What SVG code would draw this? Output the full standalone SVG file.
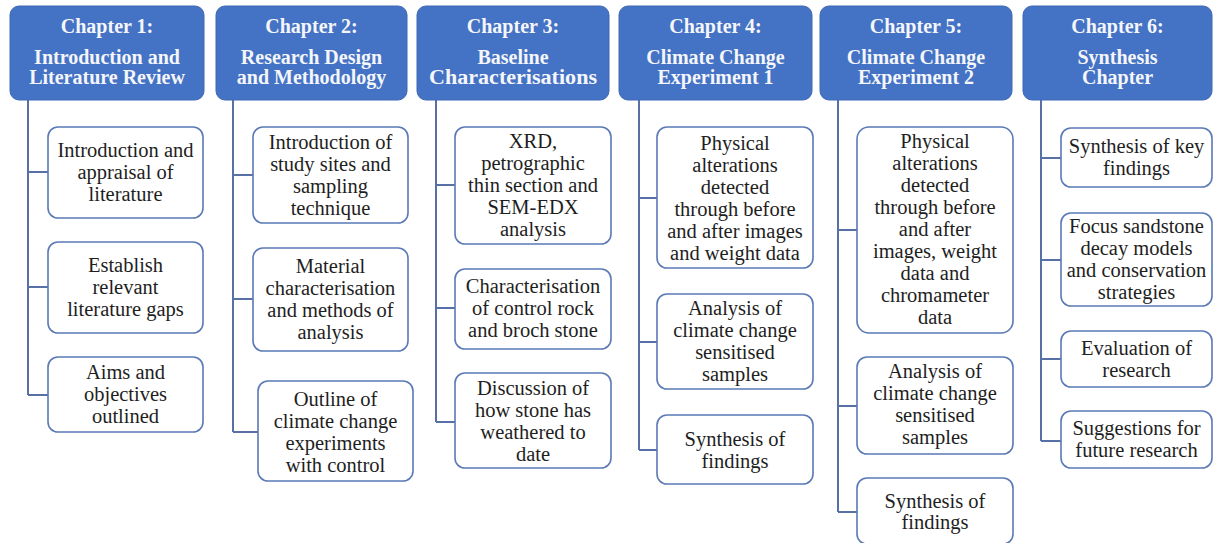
<svg xmlns="http://www.w3.org/2000/svg" width="1213" height="543" viewBox="0 0 1213 543">
<style>
.hd rect{fill:#4472C4;stroke:#3F69B5;stroke-width:1}
.hd text{font-family:"Liberation Serif","Times New Roman",serif;font-weight:bold;font-size:20px;fill:#F4F6FA;text-anchor:middle}
.ch rect{fill:#FFFFFF;stroke:#5A79B6;stroke-width:1.6}
.ch text{font-family:"Liberation Serif","Times New Roman",serif;font-size:20.5px;fill:#1E1E1E;text-anchor:middle}
#connectors path{fill:none;stroke:#5771A6;stroke-width:2}
</style>
<rect width="1213" height="543" fill="#FFFFFF"/>
<g id="connectors">
<path d="M28 100 V395 M28 172 H48 M28 287 H48 M28 395 H48"/>
<path d="M233 100 V432 M233 175 H253 M233 299 H253 M233 432 H258"/>
<path d="M436 100 V422 M436 185 H455 M436 308 H455 M436 422 H455"/>
<path d="M639 100 V450 M639 198 H657 M639 342 H657 M639 450 H657"/>
<path d="M838 100 V512 M838 230 H857 M838 406 H857 M838 512 H857"/>
<path d="M1041 100 V441 M1041 158 H1061 M1041 260 H1061 M1041 359 H1061 M1041 441 H1061"/>
</g>
<g id="ch1" class="hd"><rect x="10" y="6" width="194" height="94" rx="9"/><text x="107" y="33">Chapter 1:</text><text x="107" y="63.5">Introduction and</text><text x="107" y="84">Literature Review</text></g>
<g id="ch2" class="hd"><rect x="216" y="6" width="191" height="94" rx="9"/><text x="311.5" y="33">Chapter 2:</text><text x="311.5" y="63.5">Research Design</text><text x="311.5" y="84">and Methodology</text></g>
<g id="ch3" class="hd"><rect x="417" y="6" width="192" height="94" rx="9"/><text x="513" y="33">Chapter 3:</text><text x="513" y="63.5">Baseline</text><text x="513" y="84" textLength="168" lengthAdjust="spacingAndGlyphs">Characterisations</text></g>
<g id="ch4" class="hd"><rect x="619" y="6" width="193" height="94" rx="9"/><text x="715.5" y="33">Chapter 4:</text><text x="715.5" y="63.5">Climate Change</text><text x="715.5" y="84">Experiment 1</text></g>
<g id="ch5" class="hd"><rect x="820" y="6" width="192" height="94" rx="9"/><text x="916" y="33">Chapter 5:</text><text x="916" y="63.5">Climate Change</text><text x="916" y="84">Experiment 2</text></g>
<g id="ch6" class="hd"><rect x="1023" y="6" width="189" height="94" rx="9"/><text x="1117.5" y="33">Chapter 6:</text><text x="1117.5" y="63.5">Synthesis</text><text x="1117.5" y="84">Chapter</text></g>

<g id="c1a" class="ch"><rect x="48" y="127" width="155" height="91" rx="10"/><text x="125.5" y="157">Introduction and</text><text x="125.5" y="179">appraisal of</text><text x="125.5" y="201">literature</text></g>
<g id="c1b" class="ch"><rect x="48" y="242" width="155" height="91" rx="10"/><text x="125.5" y="272">Establish</text><text x="125.5" y="294">relevant</text><text x="125.5" y="316">literature gaps</text></g>
<g id="c1c" class="ch"><rect x="48" y="357" width="155" height="75" rx="10"/><text x="125.5" y="379">Aims and</text><text x="125.5" y="401">objectives</text><text x="125.5" y="423">outlined</text></g>

<g id="c2a" class="ch"><rect x="253" y="127" width="155" height="96" rx="10"/><text x="330.5" y="149">Introduction of</text><text x="330.5" y="171">study sites and</text><text x="330.5" y="193">sampling</text><text x="330.5" y="215">technique</text></g>
<g id="c2b" class="ch"><rect x="253" y="248" width="155" height="103" rx="10"/><text x="330.5" y="273">Material</text><text x="330.5" y="295">characterisation</text><text x="330.5" y="317">and methods of</text><text x="330.5" y="339">analysis</text></g>
<g id="c2c" class="ch"><rect x="258" y="381" width="155" height="100" rx="10"/><text x="335.5" y="406">Outline of</text><text x="335.5" y="428">climate change</text><text x="335.5" y="450">experiments</text><text x="335.5" y="472">with control</text></g>

<g id="c3a" class="ch"><rect x="455" y="127" width="156" height="117" rx="10"/><text x="533" y="148">XRD,</text><text x="533" y="170">petrographic</text><text x="533" y="192">thin section and</text><text x="533" y="214">SEM-EDX</text><text x="533" y="236">analysis</text></g>
<g id="c3b" class="ch"><rect x="455" y="269" width="156" height="80" rx="10"/><text x="533" y="293">Characterisation</text><text x="533" y="315">of control rock</text><text x="533" y="337">and broch stone</text></g>
<g id="c3c" class="ch"><rect x="455" y="373" width="156" height="95" rx="10"/><text x="533" y="395">Discussion of</text><text x="533" y="417">how stone has</text><text x="533" y="439">weathered to</text><text x="533" y="461">date</text></g>

<g id="c4a" class="ch"><rect x="657" y="127" width="156" height="141" rx="10"/><text x="735" y="150">Physical</text><text x="735" y="172">alterations</text><text x="735" y="194">detected</text><text x="735" y="216">through before</text><text x="735" y="238">and after images</text><text x="735" y="260">and weight data</text></g>
<g id="c4b" class="ch"><rect x="657" y="294" width="156" height="95" rx="10"/><text x="735" y="315">Analysis of</text><text x="735" y="337">climate change</text><text x="735" y="359">sensitised</text><text x="735" y="381">samples</text></g>
<g id="c4c" class="ch"><rect x="657" y="415" width="156" height="69" rx="10"/><text x="735" y="446">Synthesis of</text><text x="735" y="468">findings</text></g>

<g id="c5a" class="ch"><rect x="857" y="127" width="156" height="206" rx="12"/><text x="935" y="148">Physical</text><text x="935" y="170">alterations</text><text x="935" y="192">detected</text><text x="935" y="214">through before</text><text x="935" y="236">and after</text><text x="935" y="258">images, weight</text><text x="935" y="280">data and</text><text x="935" y="302">chromameter</text><text x="935" y="324">data</text></g>
<g id="c5b" class="ch"><rect x="857" y="357" width="156" height="97" rx="10"/><text x="935" y="378">Analysis of</text><text x="935" y="400">climate change</text><text x="935" y="422">sensitised</text><text x="935" y="444">samples</text></g>
<g id="c5c" class="ch"><rect x="857" y="478" width="156" height="66" rx="10"/><text x="935" y="508">Synthesis of</text><text x="935" y="529">findings</text></g>

<g id="c6a" class="ch"><rect x="1061" y="128" width="151" height="59" rx="10"/><text x="1136.5" y="153">Synthesis of key</text><text x="1136.5" y="175">findings</text></g>
<g id="c6b" class="ch"><rect x="1061" y="213" width="151" height="93" rx="10"/><text x="1136.5" y="233">Focus sandstone</text><text x="1136.5" y="255">decay models</text><text x="1136.5" y="277">and conservation</text><text x="1136.5" y="299">strategies</text></g>
<g id="c6c" class="ch"><rect x="1061" y="331" width="151" height="56" rx="10"/><text x="1136.5" y="355">Evaluation of</text><text x="1136.5" y="377">research</text></g>
<g id="c6d" class="ch"><rect x="1061" y="411" width="151" height="57" rx="10"/><text x="1136.5" y="435">Suggestions for</text><text x="1136.5" y="457">future research</text></g>
</svg>
